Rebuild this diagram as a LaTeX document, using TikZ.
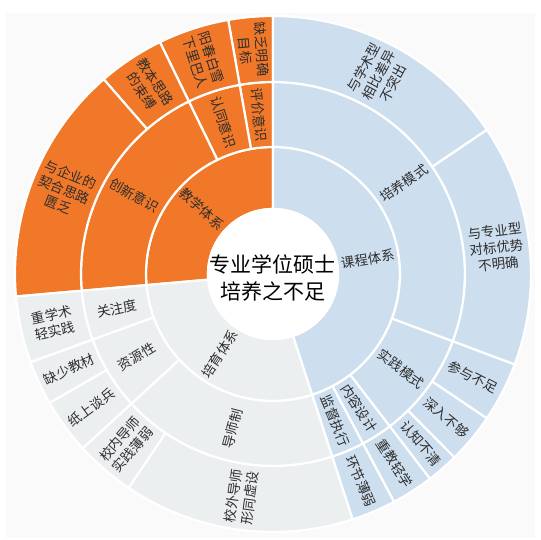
\documentclass[tikz,border=0pt]{standalone}
\usepackage{fontspec}
\setmainfont{Noto Sans CJK SC}
\definecolor{org}{HTML}{F07828}
\definecolor{blu}{HTML}{CDDEEE}
\definecolor{gry}{HTML}{EBEFF0}
\definecolor{bgc}{HTML}{FAFAFA}
\definecolor{txt}{HTML}{2E2E2E}
\newcommand\sbseg[5]{%
  \filldraw[fill=#5,draw=white,line width=2.2pt,line join=round]
    (#3:#1pt) arc[start angle=#3,end angle=#4,radius=#1pt]
    -- (#4:#2pt) arc[start angle=#4,end angle=#3,radius=#2pt] -- cycle;}
\tikzset{
  lab/.style={text=txt,font=\fontsize{13.5}{16.5}\selectfont,align=center,inner sep=0pt},
  ttl/.style={text=black,font=\fontsize{21}{27}\selectfont,align=center,inner sep=0pt}
}
\begin{document}
\begin{tikzpicture}
\useasboundingbox (-273pt,-266pt) rectangle (268pt,274pt);
\fill[bgc] (-267pt,-264pt) rectangle (262pt,261pt);
% ring 1
\sbseg{65}{127}{90}{185}{org}
\sbseg{65}{127}{185}{288}{gry}
\sbseg{65}{127}{288}{450}{blu}
% ring 2
\sbseg{127}{192}{90}{100}{org}
\sbseg{127}{192}{100}{116}{org}
\sbseg{127}{192}{116}{185}{org}
\sbseg{127}{192}{185}{200}{gry}
\sbseg{127}{192}{200}{222.5}{gry}
\sbseg{127}{192}{222.5}{288}{gry}
\sbseg{127}{192}{288}{298}{blu}
\sbseg{127}{192}{298}{307.5}{blu}
\sbseg{127}{192}{307.5}{339.5}{blu}
\sbseg{127}{192}{339.5}{450}{blu}
% ring 3
\sbseg{192}{258}{90}{100}{org}
\sbseg{192}{258}{100}{116}{org}
\sbseg{192}{258}{116}{131}{org}
\sbseg{192}{258}{131}{185}{org}
\sbseg{192}{258}{185}{200}{gry}
\sbseg{192}{258}{200}{210}{gry}
\sbseg{192}{258}{210}{222.5}{gry}
\sbseg{192}{258}{222.5}{236}{gry}
\sbseg{192}{258}{236}{288}{gry}
\sbseg{192}{258}{288}{298}{blu}
\sbseg{192}{258}{298}{307.5}{blu}
\sbseg{192}{258}{307.5}{314.7}{blu}
\sbseg{192}{258}{314.7}{326}{blu}
\sbseg{192}{258}{326}{339.5}{blu}
\sbseg{192}{258}{339.5}{394}{blu}
\sbseg{192}{258}{394}{450}{blu}
% hole
\filldraw[fill=white,draw=white,line width=2.2pt] (0,0) circle[radius=65pt];
% title
\node[ttl] (title) at (0pt,-4pt) {专业学位硕士\\培养之不足};
% ring 1 labels
\node[lab,rotate=-42.5] (a1) at (137.5:96pt) {教学体系};
\node[lab,rotate=56.5] (a2) at (236.5:96pt) {培育体系};
\node[lab,rotate=9] (a3) at (9:96pt) {课程体系};
% ring 2 labels
\node[lab,rotate=-85] (b1) at (95:159.5pt) {评价意识};
\node[lab,rotate=-72] (b2) at (108:159.5pt) {认同意识};
\node[lab,rotate=-29.5] (b3) at (150.5:159.5pt) {创新意识};
\node[lab,rotate=12.5] (b4) at (192.5:159.5pt) {关注度};
\node[lab,rotate=31.25] (b5) at (211.25:159.5pt) {资源性};
\node[lab,rotate=75.25] (b6) at (255.25:159.5pt) {导师制};
\node[lab,rotate=-67] (b7) at (293:159.5pt) {监督执行};
\node[lab,rotate=-57.25] (b8) at (302.75:159.5pt) {内容设计};
\node[lab,rotate=-36.5] (b9) at (323.5:159.5pt) {实践模式};
\node[lab,rotate=34.75] (b10) at (34.75:159.5pt) {培养模式};
% ring 3 labels
\node[lab,rotate=-85] (c1) at (95:225pt) {缺乏明确\\目标};
\node[lab,rotate=-72] (c2) at (108:225pt) {阳春白雪\\下里巴人};
\node[lab,rotate=-56.5] (c3) at (123.5:225pt) {教本思路\\的束缚};
\node[lab,rotate=-22] (c4) at (158:225pt) {与企业的\\契合思路\\匮乏};
\node[lab,rotate=12.5] (c5) at (192.5:225pt) {重学术\\轻实践};
\node[lab,rotate=25] (c6) at (205:225pt) {缺少教材};
\node[lab,rotate=36.25] (c7) at (216.25:225pt) {纸上谈兵};
\node[lab,rotate=49.25] (c8) at (229.25:225pt) {校内导师\\实践薄弱};
\node[lab,rotate=82] (c9) at (262:225pt) {校外导师\\形同虚设};
\node[lab,rotate=-67] (c10) at (293:225pt) {环节薄弱};
\node[lab,rotate=-57.25] (c11) at (302.75:225pt) {重教轻学};
\node[lab,rotate=-48.9] (c12) at (311.1:225pt) {认知不清};
\node[lab,rotate=-39.65] (c13) at (320.35:225pt) {深入不够};
\node[lab,rotate=-27.25] (c14) at (332.75:225pt) {参与不足};
\node[lab,rotate=6.75] (c15) at (6.75:225pt) {与专业型\\对标优势\\不明确};
\node[lab,rotate=62] (c16) at (62:225pt) {与学术型\\相比差异\\不突出};
\end{tikzpicture}
\end{document}
